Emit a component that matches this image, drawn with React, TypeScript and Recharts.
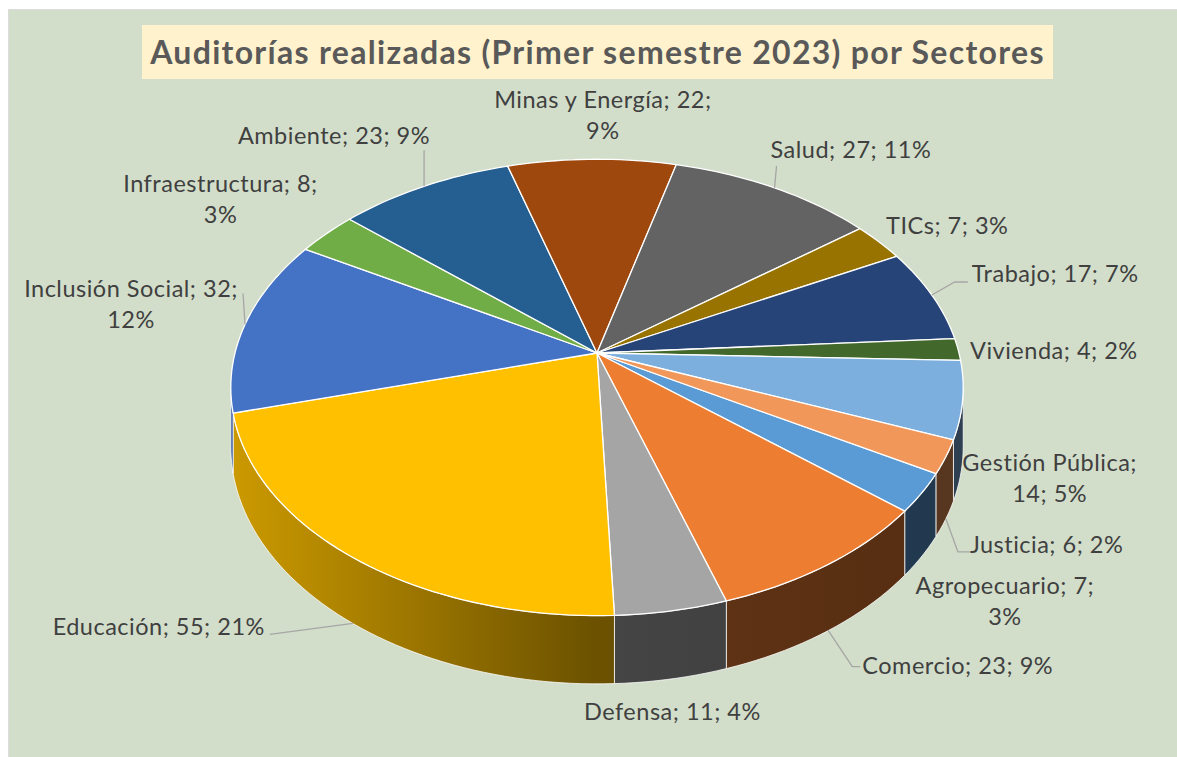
import React from "react";
import { PieChart, Pie, Cell } from "recharts";

const sectors = [
  "Agropecuario",
  "Comercio",
  "Defensa",
  "Educación",
  "Inclusión Social",
  "Infraestructura",
  "Ambiente",
  "Minas y Energía",
  "Salud",
  "TICs",
  "Trabajo",
  "Vivienda",
  "Gestión Pública",
  "Justicia",
];
const audits = [7, 23, 11, 55, 32, 8, 23, 22, 27, 7, 17, 4, 14, 6];
const percents = ["3%", "9%", "4%", "21%", "12%", "3%", "9%", "9%", "11%", "3%", "7%", "2%", "5%", "2%"];

const COLORS = [
  "#5B9BD5", "#ED7D31", "#A5A5A5", "#FFC000", "#4472C4", "#70AD47", "#255E91",
  "#9E480E", "#636363", "#997300", "#264478", "#43682B", "#7CAFDD", "#F1975A",
];

const data = sectors.map((name, i) => ({ name, value: audits[i], pct: percents[i] }));

// 3D look: vertical squash, perspective (near side bigger), wall height
const TILT = 0.616;
const PERSP = 0.151;
const DEPTH = 0.16;
const FRONT_FROM = (Math.acos(-PERSP) * 180) / Math.PI;
const FRONT_TO = 360 - FRONT_FROM;

const FONT = "Lato, 'Open Sans', sans-serif";
const LABEL_SIZE = 23.5;
const LABEL_SPACING = 0.5;
const LINE_GAP = 31;

// where each label sits relative to its slice edge (leader: dx, dy, horizontal tail)
const LABEL_LAYOUT: any[] = [
  { align: "middle", dx: 83, dy: 45, br: "pct" },
  { align: "start", dx: 34, dy: 35, leader: [24, 36, 8] },
  { align: "middle", dx: 1, dy: 33 },
  { align: "end", dx: -88, dy: 3, leader: [-83, 11, 0] },
  { align: "middle", dx: -114, dy: -20, br: "pct", leader: [-2, -31, 0] },
  { align: "middle", dx: -106, dy: -34, br: "pct" },
  { align: "end", dx: 6, dy: -51, leader: [0, -36, 0] },
  { align: "middle", dx: 11, dy: -44, br: "pct" },
  { align: "start", dx: -4, dy: -38, leader: [2, -22, 0] },
  { align: "start", dx: 7, dy: -16 },
  { align: "start", dx: 40, dy: -21, leader: [23, -13, 13] },
  { align: "start", dx: 12, dy: 1 },
  { align: "middle", dx: 87, dy: 19, br: "name" },
  { align: "start", dx: 24, dy: 26, leader: [12, 33, 12] },
];

const rad = (d: number) => (d * Math.PI) / 180;

function project(cx: number, cy: number, R: number, theta: number, drop = 0) {
  const u = Math.sin(rad(theta));
  const v = -Math.cos(rad(theta));
  const w = 1 - PERSP * v;
  return [cx + (R * u) / w, cy + (R * TILT * v) / w + (R * DEPTH * drop) / w];
}

function arc(cx: number, cy: number, R: number, from: number, to: number, drop: number) {
  const n = Math.max(2, Math.ceil(Math.abs(to - from) / 1.5));
  const pts: number[][] = [];
  for (let s = 0; s <= n; s++) pts.push(project(cx, cy, R, from + ((to - from) * s) / n, drop));
  return pts;
}

const toPath = (pts: number[][]) =>
  "M" + pts.map((p) => p[0].toFixed(2) + "," + p[1].toFixed(2)).join("L") + "Z";

function shade(hex: string, f: number) {
  const n = parseInt(hex.slice(1), 16);
  const c = [(n >> 16) & 255, (n >> 8) & 255, n & 255].map((v) => Math.round(v * f));
  return `rgb(${c[0]},${c[1]},${c[2]})`;
}

const norm = (t: number) => ((t % 360) + 360) % 360;

function Slice3D(props: any) {
  const { cx, cy, outerRadius: R, startAngle, endAngle } = props;
  const name = props.payload?.name ?? props.name;
  const i = sectors.indexOf(name);
  const fill = props.fill && props.fill !== "#808080" ? props.fill : COLORS[i];
  const span = startAngle - endAngle;
  const t0 = norm(90 - startAngle);
  const t1 = t0 + span;
  const top = [[cx, cy], ...arc(cx, cy, R, t0, t1, 0)];
  const a = Math.max(t0, FRONT_FROM);
  const b = Math.min(t1, FRONT_TO);
  const gid = `wall-${i}`;
  let wall = null;
  if (b > a) {
    const pts = arc(cx, cy, R, a, b, 0).concat(arc(cx, cy, R, b, a, 1));
    wall = (
      <g>
        <defs>
          <linearGradient id={gid} gradientUnits="userSpaceOnUse" x1={cx - R * 1.012} x2={cx + R * 1.012} y1={0} y2={0}>
            <stop offset="0" stopColor={shade(fill, 0.8)} />
            <stop offset="0.5" stopColor={shade(fill, 0.42)} />
            <stop offset="1" stopColor={shade(fill, 0.36)} />
          </linearGradient>
        </defs>
        <path d={toPath(pts)} fill={`url(#${gid})`} stroke="#ffffff" strokeOpacity={0.75} strokeWidth={1} />
      </g>
    );
  }
  return (
    <g>
      {wall}
      <path d={toPath(top)} fill={fill} stroke="#ffffff" strokeWidth={1.3} strokeLinejoin="round" />
    </g>
  );
}

function renderLabel(props: any) {
  const { cx, cy, midAngle, outerRadius: R, index } = props;
  const t = norm(90 - midAngle);
  const front = t > FRONT_FROM && t < FRONT_TO;
  const [ax, ay] = project(cx, cy, R, t, front ? 1 : 0);
  const lay = LABEL_LAYOUT[index];
  const name = sectors[index];
  let lines = [`${name}; ${audits[index]}; ${percents[index]}`];
  if (lay.br === "pct") lines = [`${name}; ${audits[index]};`, percents[index]];
  if (lay.br === "name") lines = [`${name};`, `${audits[index]}; ${percents[index]}`];
  const x = ax + lay.dx;
  const yc = ay + lay.dy;
  const first = yc - ((lines.length - 1) * LINE_GAP) / 2;
  let leader = null;
  if (lay.leader) {
    const [lx, ly, tail] = lay.leader;
    const ex = ax + lx;
    const ey = ay + ly;
    leader = (
      <polyline
        points={`${ax},${ay} ${ex},${ey} ${ex + tail},${ey}`}
        fill="none"
        stroke="#A6A6A6"
        strokeWidth={1.3}
      />
    );
  }
  return (
    <g key={`lab-${index}`}>
      {leader}
      {lines.map((ln, k) => (
        <text
          key={k}
          x={x}
          y={first + k * LINE_GAP + LABEL_SIZE * 0.35}
          textAnchor={lay.align}
          fill="#404040"
          fontFamily={FONT}
          fontSize={LABEL_SIZE}
          letterSpacing={LABEL_SPACING}
        >
          {ln}
        </text>
      ))}
    </g>
  );
}

export default function App() {
  return (
    <div
      style={{
        position: "absolute",
        left: 8,
        top: 9,
        width: 1169,
        height: 748,
        background: "#D2DECA",
        borderTop: "1px solid #DCDCDC",
        borderLeft: "1px solid #DCDCDC",
        boxSizing: "border-box",
        overflow: "hidden",
      }}
    >
      <div
        style={{
          position: "absolute",
          left: 133,
          top: 15,
          width: 911,
          height: 54,
          background: "#FFF2CC",
          color: "#595959",
          fontFamily: FONT,
          fontWeight: 700,
          fontSize: 32,
          letterSpacing: 1.3,
          lineHeight: "54px",
          textAlign: "center",
          whiteSpace: "nowrap",
        }}
      >
        Auditorías realizadas (Primer semestre 2023) por Sectores
      </div>
      <div style={{ position: "absolute", left: -1, top: -1 }}>
        <PieChart width={1169} height={748} margin={{ top: 0, right: 0, bottom: 0, left: 0 }}>
          <Pie
            data={data}
            dataKey="value"
            nameKey="name"
            cx={589}
            cy={344}
            outerRadius={362}
            startAngle={-30}
            endAngle={-390}
            isAnimationActive={false}
            stroke="#ffffff"
            labelLine={false}
            label={renderLabel}
            shape={Slice3D}
          >
            {data.map((_, i) => (
              <Cell key={i} fill={COLORS[i]} />
            ))}
          </Pie>
        </PieChart>
      </div>
    </div>
  );
}
